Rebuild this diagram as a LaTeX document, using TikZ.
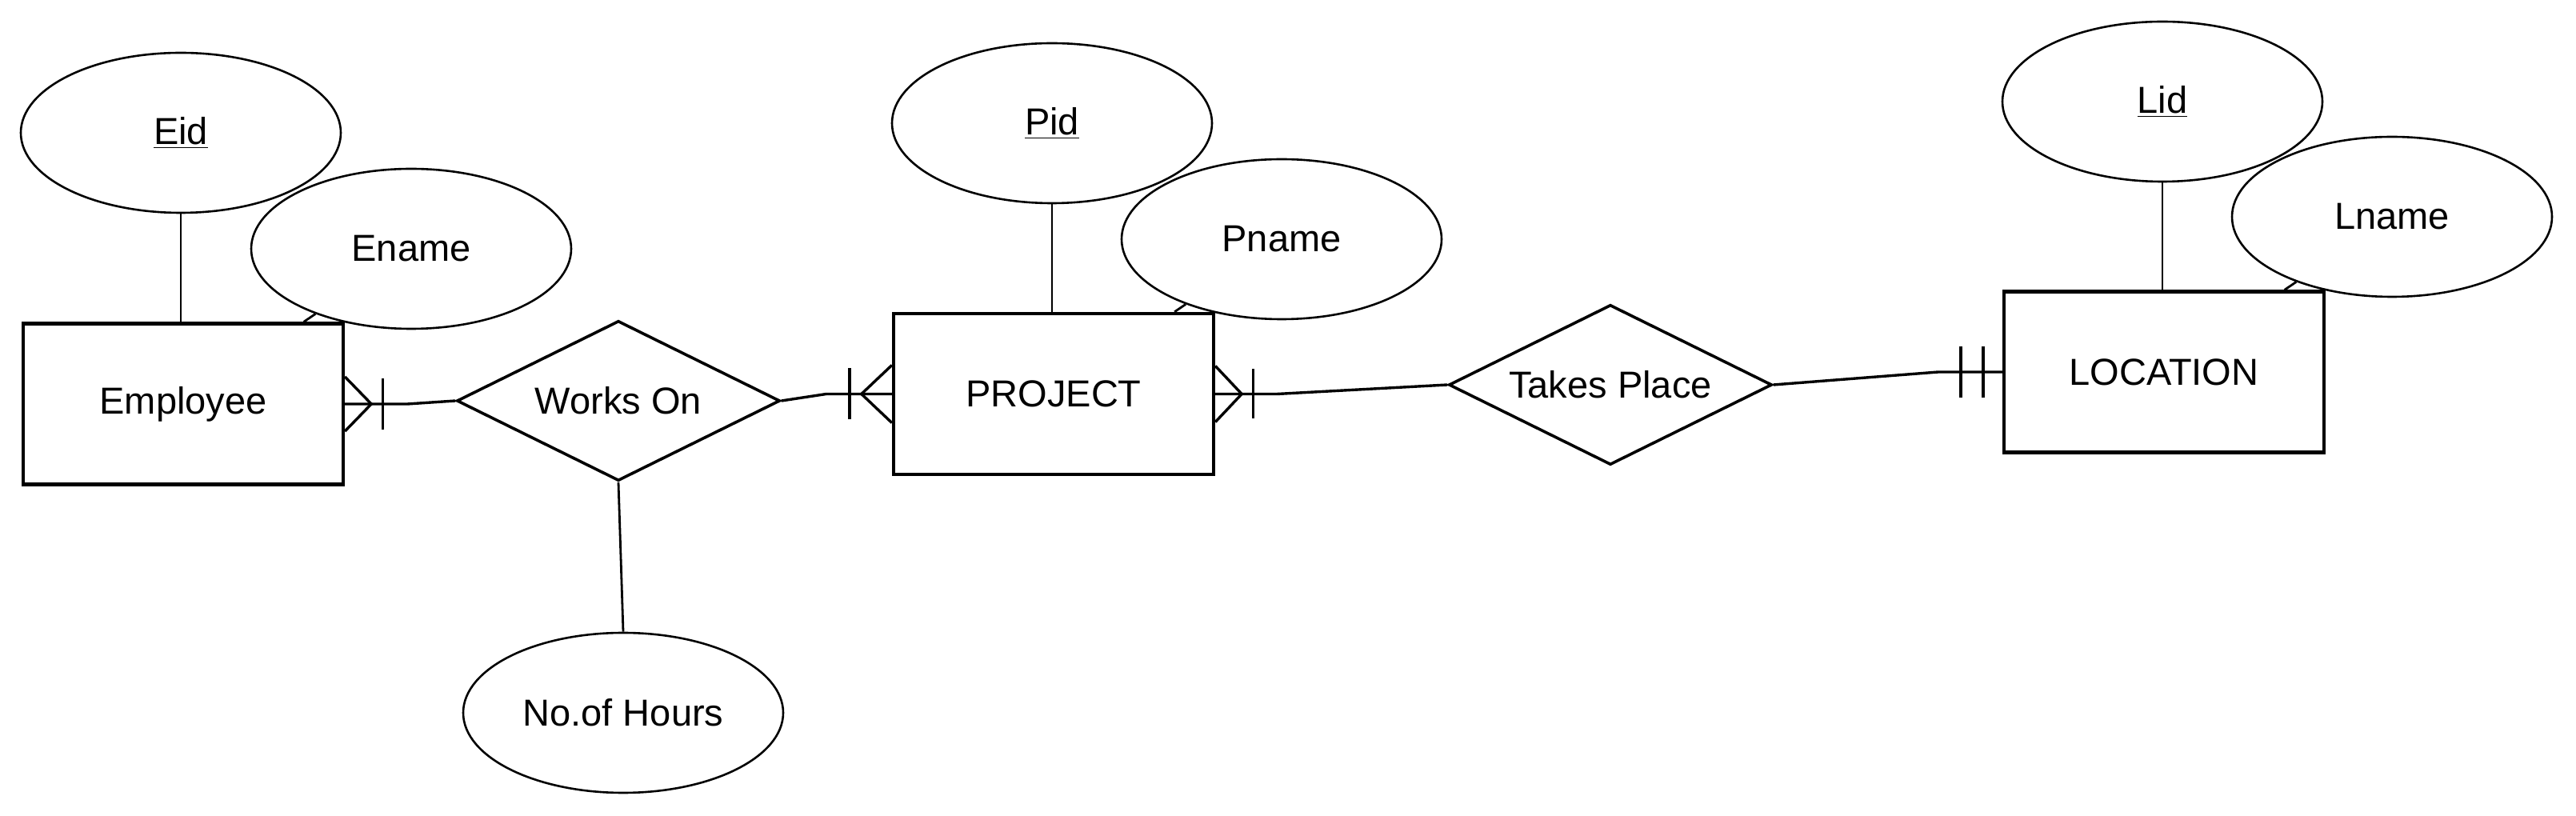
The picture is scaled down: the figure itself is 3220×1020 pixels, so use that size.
\documentclass[tikz,border=0pt]{standalone}
\usepackage{fontspec}
\setmainfont{Liberation Sans}
\usepackage{tikz}
\usetikzlibrary{shapes,shapes.geometric}
\usetikzlibrary{calc,positioning}
\tikzset{
  entity/.style={draw, line width=2.2pt, fill=white, minimum width=200pt, minimum height=100.5pt, inner sep=0pt, text centered},
  attr/.style={ellipse, draw, line width=1.3pt, fill=white, minimum width=200pt, minimum height=100pt, inner sep=0pt},
  rel/.style={diamond, draw, line width=1.8pt, fill=white, aspect=2, minimum width=202pt, minimum height=100pt, inner sep=0pt},
  link/.style={line width=1.4pt},
  card/.style={line width=1.7pt}
}
\begin{document}
\begin{tikzpicture}[x=0.5pt, y=-0.5pt, font=\fontsize{23.5}{28}\selectfont]
  \useasboundingbox (0,0) rectangle (3220,1020);

  \node[attr] (eid) at (226,166) {\underline{Eid}};
  \node[attr] (ename) at (514,311) {Ename};
  \node[entity] (emp) at (229,505) {Employee};
  \node[rel] (works) at (773,501) {Works On};
  \node[attr] (hours) at (779,891) {No.of Hours};

  \node[attr] (pid) at (1315,154) {\underline{Pid}};
  \node[attr] (pname) at (1602,299) {Pname};
  \node[entity] (proj) at (1317,492.5) {PROJECT};
  \node[rel] (take) at (2013,481) {Takes Place};

  \node[attr] (lid) at (2703,127) {\underline{Lid}};
  \node[attr] (lname) at (2990,271) {Lname};
  \node[entity] (loc) at (2705,465) {LOCATION};

  \draw[link] (eid.south) -- (eid.south |- emp.north);
  \draw[link] (ename) -- (emp);
  \draw[link] (pid.south) -- (pid.south |- proj.north);
  \draw[link] (pname) -- (proj);
  \draw[link] (lid.south) -- (lid.south |- loc.north);
  \draw[link] (lname) -- (loc);
  \draw[link] (works.south) -- (hours.north);

  \draw[card] (emp.east) -- ++(78,0) -- (works.west);
  \draw[card] ($(emp.east)+(0,-34)$) -- ($(emp.east)+(33,0)$) -- ($(emp.east)+(0,34)$);
  \draw[card] ($(emp.east)+(47,-32)$) -- ($(emp.east)+(47,32)$);

  \draw[card] (works.east) -- ($(proj.west)+(-82,0)$) -- (proj.west);
  \draw[card] ($(proj.west)+(0,-36)$) -- ($(proj.west)+(-38,0)$) -- ($(proj.west)+(0,36)$);
  \draw[card] ($(proj.west)+(-53,-32)$) -- ($(proj.west)+(-53,32)$);

  \draw[card] (proj.east) -- ++(77,0) -- (take.west);
  \draw[card] ($(proj.east)+(0,-35)$) -- ($(proj.east)+(33,0)$) -- ($(proj.east)+(0,35)$);
  \draw[card] ($(proj.east)+(47,-31)$) -- ($(proj.east)+(47,31)$);

  \draw[card] (take.east) -- ($(loc.west)+(-80,0)$) -- (loc.west);
  \draw[card] ($(loc.west)+(-52,-32)$) -- ($(loc.west)+(-52,32)$);
  \draw[card] ($(loc.west)+(-24,-32)$) -- ($(loc.west)+(-24,32)$);
\end{tikzpicture}
\end{document}
